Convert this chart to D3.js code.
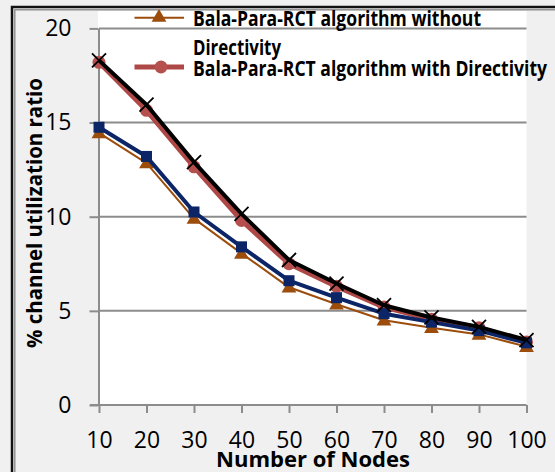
<!DOCTYPE html>
<html>
<head>
<meta charset="utf-8">
<script src="https://cdn.jsdelivr.net/npm/d3@7"></script>
<style>
  html, body { margin: 0; padding: 0; background: #f0f0f0; }
  svg { display: block; }
  text { font-family: "Open Sans", "Liberation Sans", sans-serif; fill: #000; }
</style>
</head>
<body>
<svg id="chart" width="555" height="472"></svg>
<script>
// ---------- data ----------
const categories = ["10", "20", "30", "40", "50", "60", "70", "80", "90", "100"];
const yTicks = [0, 5, 10, 15, 20];
const seriesNames = [
  "Bala-Para-RCT algorithm without Directivity",
  "Bala-Para-RCT algorithm with Directivity",
  "Series 3",
  "Series 4"
];
const withoutDirectivity = [14.45, 12.85, 9.9, 8.05, 6.25, 5.35, 4.5, 4.1, 3.75, 3.1];
const withDirectivity    = [18.2, 15.65, 12.65, 9.8, 7.5, 6.3, 5.2, 4.55, 4.1, 3.35];
const series3            = [14.75, 13.2, 10.25, 8.4, 6.6, 5.7, 4.85, 4.4, 3.95, 3.3];
const series4            = [18.3, 15.95, 12.9, 10.15, 7.7, 6.45, 5.3, 4.65, 4.15, 3.45];
const xTitle = "Number of Nodes";
const yTitle = "% channel utilization ratio";

// ---------- setup ----------
const svg = d3.select("#chart");
const W = 555, H = 472;
const plot = { left: 99, right: 526.5, top: 28.4, bottom: 405 };

const x = d3.scalePoint().domain(categories).range([plot.left, plot.right]);
const y = d3.scaleLinear().domain([0, 20]).range([plot.bottom, plot.top]);

function fit(sel, w) {
  sel.each(function () {
    const len = this.getComputedTextLength();
    if (Math.abs(len - w) > 1) {
      d3.select(this).attr("textLength", w).attr("lengthAdjust", "spacingAndGlyphs");
    }
  });
}

// chart background
svg.append("rect").attr("x", 0).attr("y", 0).attr("width", W).attr("height", H).attr("fill", "#f0f0f0");
// border (double line, left/top visible)
svg.append("rect").attr("x", 12).attr("y", 7).attr("width", 700).attr("height", 600)
  .attr("fill", "none").attr("stroke", "#111").attr("stroke-width", 2.5);
svg.append("rect").attr("x", 14.8).attr("y", 9.8).attr("width", 700).attr("height", 600)
  .attr("fill", "none").attr("stroke", "#8a8a8a").attr("stroke-width", 1.4);

// plot area
svg.append("rect").attr("x", plot.left - 1).attr("y", 11).attr("width", plot.right - plot.left + 1)
  .attr("height", plot.bottom - 11).attr("fill", "#ffffff");

// gridlines
svg.append("g").selectAll("line").data(yTicks.filter(d => d > 0)).join("line")
  .attr("x1", plot.left).attr("x2", plot.right)
  .attr("y1", d => y(d)).attr("y2", d => y(d))
  .attr("stroke", "#8c8c8c").attr("stroke-width", 2);

// y axis
const yAxis = svg.append("g").attr("transform", `translate(${plot.left - 0.5},0)`)
  .call(d3.axisLeft(y).tickValues(yTicks).tickSize(9).tickPadding(18).tickSizeOuter(0));
yAxis.select(".domain").attr("stroke", "#8c8c8c").attr("stroke-width", 2);
yAxis.selectAll(".tick line").attr("stroke", "#8c8c8c").attr("stroke-width", 2);
yAxis.selectAll(".tick text").attr("font-size", 23).attr("font-family", "Open Sans").attr("fill", "#000");

// x axis
const xAxis = svg.append("g").attr("transform", `translate(0,${plot.bottom})`)
  .call(d3.axisBottom(x).tickSize(8).tickSizeOuter(0));
xAxis.select(".domain").attr("stroke", "#8c8c8c").attr("stroke-width", 2)
  .attr("d", `M${plot.left - 9},0H${plot.right}`);
xAxis.selectAll(".tick line").attr("stroke", "#8c8c8c").attr("stroke-width", 2);
xAxis.selectAll(".tick text").attr("font-size", 23).attr("font-family", "Open Sans")
  .attr("fill", "#000").attr("y", 43).attr("dy", null);

// axis titles
svg.append("text").attr("x", 313).attr("y", 466.5).attr("text-anchor", "middle")
  .attr("font-size", 21.5).attr("font-weight", "bold").text(xTitle).call(fit, 194);
svg.append("text").attr("transform", "translate(41.5,213) rotate(-90)").attr("text-anchor", "middle")
  .attr("font-size", 21.5).attr("font-weight", "bold").text(yTitle).call(fit, 270);

// ---------- series ----------
const styles = [
  { data: withoutDirectivity, color: "#9c4d0c", width: 2, marker: "triangle" },
  { data: withDirectivity, color: "#ad4846", width: 5, marker: "circle" },
  { data: series3, color: "#0b2566", width: 4, marker: "square" },
  { data: series4, color: "#000000", width: 4, marker: "x" }
];
const line = d3.line().x((d, i) => x(categories[i])).y(d => y(d));

function drawMarker(g, type, color, px, py) {
  if (type === "triangle") {
    g.append("path").attr("d", d3.symbol(d3.symbolTriangle, 95)()).attr("transform", `translate(${px},${py + 1})`)
      .attr("fill", color);
  } else if (type === "circle") {
    g.append("circle").attr("cx", px).attr("cy", py).attr("r", 6.5).attr("fill", "#b5504e");
  } else if (type === "square") {
    g.append("rect").attr("x", px - 5.5).attr("y", py - 5.5).attr("width", 11).attr("height", 11).attr("fill", color);
  } else {
    const s = 7;
    g.append("path").attr("d", `M${px - s},${py - s}L${px + s},${py + s}M${px - s},${py + s}L${px + s},${py - s}`)
      .attr("stroke", "#000").attr("stroke-width", 1.8).attr("fill", "none");
  }
}

styles.forEach(st => {
  const g = svg.append("g");
  g.append("path").datum(st.data).attr("d", line).attr("fill", "none")
    .attr("stroke", st.color).attr("stroke-width", st.width).attr("stroke-linejoin", "round");
  st.data.forEach((v, i) => drawMarker(g, st.marker, st.color, x(categories[i]), y(v)));
});

// ---------- legend ----------
const lg = svg.append("g");
// entry 1
lg.append("line").attr("x1", 134.5).attr("x2", 184).attr("y1", 17.7).attr("y2", 17.7)
  .attr("stroke", styles[0].color).attr("stroke-width", 2);
drawMarker(lg, "triangle", styles[0].color, 159, 16.5);
lg.append("text").attr("x", 193).attr("y", 25.5).attr("font-size", 21.5).attr("font-weight", "bold")
  .text("Bala-Para-RCT algorithm without").call(fit, 288);
lg.append("text").attr("x", 193).attr("y", 54.9).attr("font-size", 21.5).attr("font-weight", "bold")
  .text("Directivity").call(fit, 88);
// entry 2
lg.append("line").attr("x1", 134.5).attr("x2", 184).attr("y1", 67).attr("y2", 67)
  .attr("stroke", styles[1].color).attr("stroke-width", 5);
drawMarker(lg, "circle", styles[1].color, 161, 67);
lg.append("text").attr("x", 193).attr("y", 76).attr("font-size", 21.5).attr("font-weight", "bold")
  .text("Bala-Para-RCT algorithm with Directivity").call(fit, 354);
</script>
</body>
</html>
